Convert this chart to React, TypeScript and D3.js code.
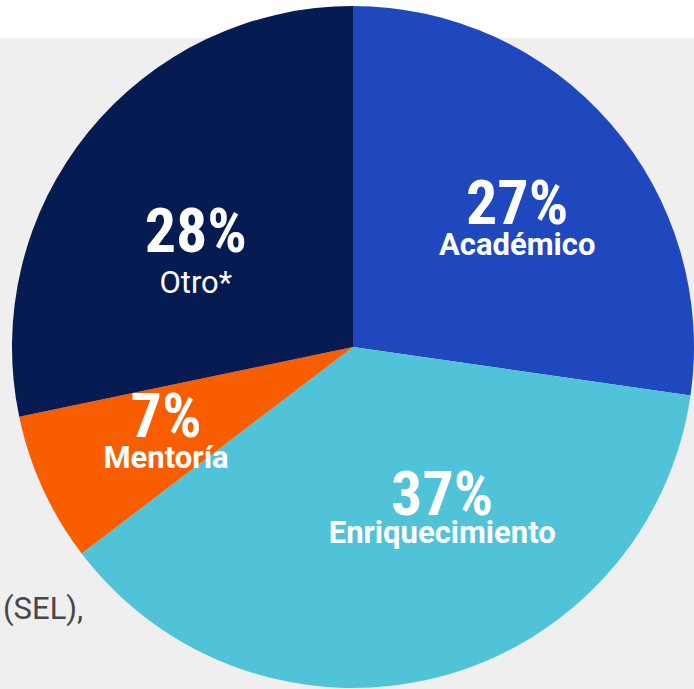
import React from "react";
import * as d3 from "d3";

const categories = ["Académico", "Enriquecimiento", "Mentoría", "Otro*"];
const values = [27, 37, 7, 28];
const pctLabels = ["27%", "37%", "7%", "28%"];
const colors = ["#1f48bf", "#50c3d8", "#f85d00", "#061b52"];
// label nudges relative to arc centroid (style, not data)
const nudges = [
  [13, 8],
  [39, -26],
  [-5, 7],
  [-2, 31],
];
const subOffsets = [31, 28, 31, 41];
const subWeights = [700, 700, 700, 400];

const W = 694;
const H = 689;

export default function App() {
  const cx = 353;
  const cy = 347;
  const r = 341;
  const pie = d3.pie<number>().sort(null).value((d) => d)(values);
  const arc = d3.arc<d3.PieArcDatum<number>>().innerRadius(0).outerRadius(r);
  const labelArc = d3
    .arc<d3.PieArcDatum<number>>()
    .innerRadius(200)
    .outerRadius(200);
  return (
    <svg
      width={W}
      height={H}
      style={{ position: "absolute", left: 0, top: 0 }}
    >
      <rect x={0} y={0} width={W} height={H} fill="#efefef" />
      <rect x={0} y={0} width={W} height={38} fill="#ffffff" />
      <text x={3} y={619} fontFamily="Roboto" fontSize={31} fill="#474747">
        (SEL),
      </text>
      <g transform={`translate(${cx},${cy})`}>
        {pie.map((p, i) => (
          <path key={i} d={arc(p) || ""} fill={colors[i]} />
        ))}
        {pie.map((p, i) => {
          const [x, y] = labelArc.centroid(p);
          const lx = x + nudges[i][0];
          const ly = y + nudges[i][1];
          return (
            <g key={"l" + i} transform={`translate(${lx},${ly})`}>
              <text
                y={0}
                textAnchor="middle"
                fontFamily="'Roboto Condensed', 'Liberation Sans Narrow', 'DejaVu Sans Condensed'"
                fontWeight={700}
                fontSize={62}
                fill="#ffffff"
              >
                {pctLabels[i]}
              </text>
              <text
                y={subOffsets[i]}
                textAnchor="middle"
                fontFamily="Roboto"
                fontWeight={subWeights[i]}
                fontSize={31}
                fill="#ffffff"
              >
                {categories[i]}
              </text>
            </g>
          );
        })}
      </g>
    </svg>
  );
}
